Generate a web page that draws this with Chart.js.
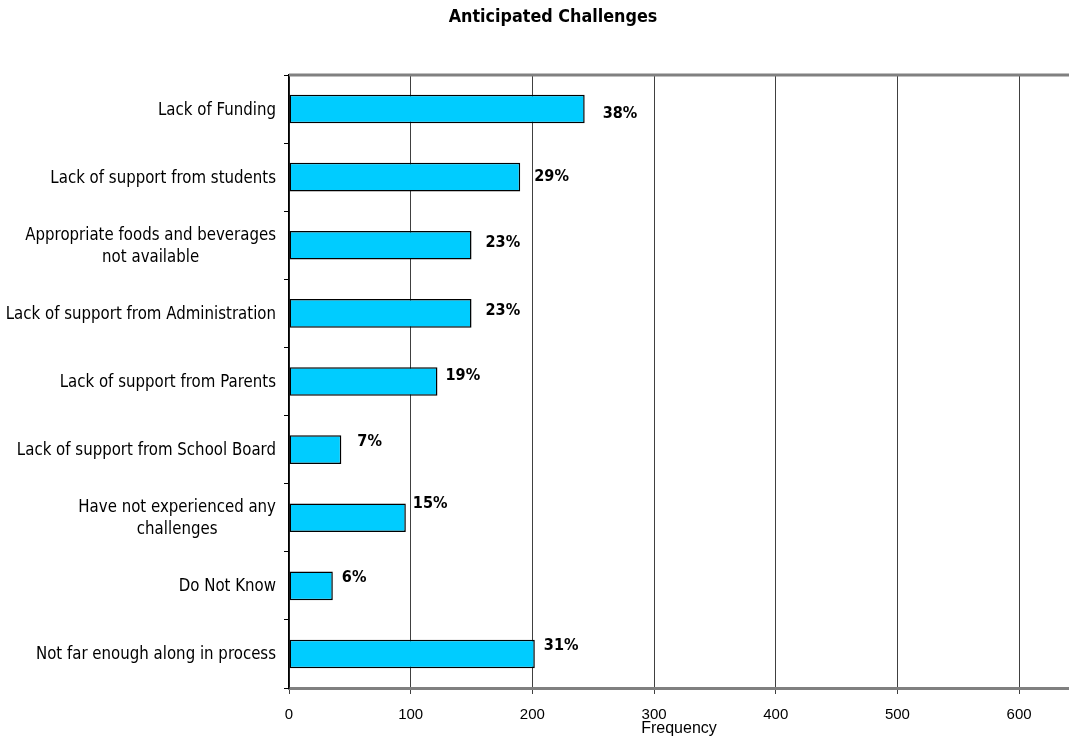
<!DOCTYPE html>
<html>
<head>
<meta charset="utf-8">
<title>Anticipated Challenges</title>
<script src="https://cdn.jsdelivr.net/npm/chart.js@4.4.1/dist/chart.umd.min.js"></script>
<style>
  body { margin: 0; background: #fff; }
  canvas { display: block; }
</style>
</head>
<body>
<canvas id="challengesChart" width="1069" height="736"></canvas>
<script>
const categories = [
  "Lack of Funding",
  "Lack of support from students",
  ["Appropriate foods and beverages", "not available"],
  "Lack of support from Administration",
  "Lack of support from Parents",
  "Lack of support from School Board",
  ["Have not experienced any", "challenges"],
  "Do Not Know",
  "Not far enough along in process"
];
const frequency = [243, 190, 150, 150, 122, 43, 96, 36, 202];
const percentLabels = ["38%", "29%", "23%", "23%", "19%", "7%", "15%", "6%", "31%"];
const xTicks = [0, 100, 200, 300, 400, 500, 600];

const FONT = '"DejaVu Sans", Verdana, sans-serif';
const AXIS_FONT = '"Liberation Sans", Arial, sans-serif';
const TEXT_STRETCH = 1.15; // labels are a bit taller than the font's natural shape

// offsets of the % labels from the end of each bar
const labelNudge = [[18, 5], [14, 0], [14, -3], [14, -3], [8, -6], [16, -8], [7, -14], [9, -8], [9, -8]];

function tallText(ctx, text, x, y) {
  ctx.save();
  ctx.translate(x, y);
  ctx.scale(1, TEXT_STRETCH);
  ctx.fillText(text, 0, 0);
  ctx.restore();
}

const extras = {
  id: "extras",
  afterDatasetsDraw(chart) {
    const ctx = chart.ctx;
    const meta = chart.getDatasetMeta(0);
    ctx.save();
    ctx.font = "bold 14.5px " + FONT;
    ctx.fillStyle = "#000";
    ctx.textAlign = "left";
    ctx.textBaseline = "middle";
    meta.data.forEach((bar, i) => {
      const [dx, dy] = labelNudge[i];
      tallText(ctx, percentLabels[i], bar.x + dx, bar.y + dy);
    });
    ctx.restore();
  },
  afterDraw(chart) {
    const ctx = chart.ctx;
    const area = chart.chartArea;
    const y = chart.scales.y;
    ctx.save();

    // grey frame line along the top of the plot
    ctx.strokeStyle = "#808080";
    ctx.lineWidth = 3;
    ctx.beginPath();
    ctx.moveTo(area.left, area.top);
    ctx.lineTo(area.right, area.top);
    ctx.stroke();

    // category labels, each block right aligned, lines centred inside it
    ctx.font = "15px " + FONT;
    ctx.fillStyle = "#000";
    ctx.textAlign = "center";
    ctx.textBaseline = "middle";
    const lineH = 22.5;
    categories.forEach((lab, i) => {
      const lines = Array.isArray(lab) ? lab : [lab];
      const w = Math.max(...lines.map((l) => ctx.measureText(l).width));
      const cx = y.right - 13 - w / 2;
      const y0 = y.getPixelForValue(i) + 1 - ((lines.length - 1) * lineH) / 2;
      lines.forEach((l, j) => tallText(ctx, l, cx, y0 + j * lineH));
    });

    // chart title
    ctx.font = "bold 16px " + FONT;
    tallText(ctx, "Anticipated Challenges", 553, 17);
    ctx.restore();
  }
};

new Chart(document.getElementById("challengesChart"), {
  type: "bar",
  data: {
    labels: categories,
    datasets: [
      {
        data: frequency,
        backgroundColor: "#00CCFF",
        borderColor: "#000",
        borderWidth: 1.5,
        borderSkipped: false,
        categoryPercentage: 1,
        barPercentage: 0.42
      }
    ]
  },
  options: {
    indexAxis: "y",
    responsive: false,
    animation: false,
    devicePixelRatio: 1,
    layout: { padding: { top: 75, right: 0, left: 0, bottom: 0 } },
    plugins: {
      legend: { display: false },
      tooltip: { enabled: false }
    },
    scales: {
      x: {
        min: 0,
        max: 641,
        afterBuildTicks: (scale) => {
          scale.ticks = xTicks.map((v) => ({ value: v }));
        },
        afterFit: (scale) => {
          scale.height = 48;
        },
        ticks: {
          autoSkip: false,
          maxRotation: 0,
          padding: 12,
          color: "#000",
          font: { family: AXIS_FONT, size: 15 }
        },
        grid: {
          color: "#404040",
          lineWidth: 1,
          tickLength: 6,
          tickColor: "#404040"
        },
        border: { color: "#808080", width: 3 },
        title: {
          display: true,
          text: "Frequency",
          color: "#000",
          font: { family: AXIS_FONT, size: 16 },
          padding: { top: 0, bottom: -2 }
        }
      },
      y: {
        afterFit: (scale) => {
          scale.width = 289;
        },
        ticks: { display: false },
        grid: {
          offset: true,
          drawOnChartArea: false,
          tickLength: 5,
          tickColor: "#000"
        },
        border: { color: "#000", width: 1.5 }
      }
    }
  },
  plugins: [extras]
});
</script>
</body>
</html>
